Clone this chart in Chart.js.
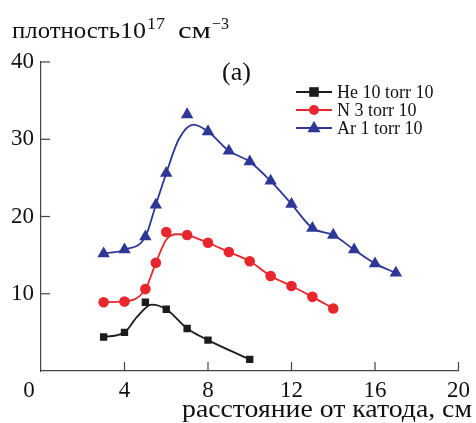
<!DOCTYPE html>
<html>
<head>
<meta charset="utf-8">
<script src="https://cdn.jsdelivr.net/npm/chart.js@4.4.1/dist/chart.umd.min.js"></script>
<style>
  html, body { margin: 0; padding: 0; background: #fff; }
  #wrap { width: 476px; height: 423px; position: relative; }
</style>
</head>
<body>
<div id="wrap"><canvas id="chart" width="476" height="423"></canvas></div>
<script>
// ---- data ----
const heX = [3, 4, 5, 6, 7, 8, 10];
const heY = [4.4, 5.0, 8.9, 8.0, 5.5, 4.0, 1.5];
const nX = [3, 4, 5, 5.5, 6, 7, 8, 9, 10, 11, 12, 13, 14];
const nY = [8.9, 9.0, 10.6, 14.0, 18.0, 17.6, 16.6, 15.4, 14.2, 12.3, 11.0, 9.6, 8.1];
const arX = [3, 4, 5, 5.5, 6, 7, 8, 9, 10, 11, 12, 13, 14, 15, 16, 17];
const arY = [15.2, 15.7, 17.4, 21.5, 25.6, 33.2, 31.0, 28.5, 27.1, 24.6, 21.6, 18.5, 17.6, 15.7, 13.9, 12.7];

// smoothed curves drawn through the markers (as seen in the figure)
const heFitX = [3, 4, 4.6, 5.3, 6, 7, 8, 10];
const heFitY = [4.4, 5.0, 7.0, 8.6, 8.0, 5.5, 4.0, 1.5];
const nFitX = [3, 4, 5, 5.5, 6, 6.5, 7, 8, 9, 10, 11, 12, 13, 14];
const nFitY = [8.9, 9.0, 10.6, 14.0, 17.0, 17.7, 17.6, 16.6, 15.4, 14.2, 12.3, 11.0, 9.6, 8.1];
const arFitX = [3, 4, 5, 5.5, 6, 6.6, 7.3, 8, 9, 10, 11, 12, 13, 14, 15, 16, 17];
const arFitY = [15.2, 15.7, 17.4, 21.5, 25.6, 30.0, 31.9, 31.0, 28.5, 27.1, 24.6, 21.6, 18.5, 17.6, 15.7, 13.9, 12.7];

const xTicks = [0, 4, 8, 12, 16, 20];
const yTicks = [0, 10, 20, 30, 40];
const seriesNames = ['He 10 torr 10', 'N 3 torr 10', 'Ar 1 torr 10'];

const COLORS = { he: '#1c1c1c', n: '#e8262d', ar: '#2e3796' };
const SERIF = '"Liberation Serif", "DejaVu Serif", serif';

const pts = (xs, ys) => xs.map((x, i) => ({ x, y: ys[i] }));

function lineSet(xs, ys, color) {
  return {
    data: pts(xs, ys),
    showLine: true,
    borderColor: color,
    borderWidth: 1.8,
    pointRadius: 0,
    cubicInterpolationMode: 'monotone',
    fill: false,
  };
}
function markerSet(xs, ys, color, style, r) {
  return {
    data: pts(xs, ys),
    showLine: false,
    pointStyle: style,
    pointRadius: r,
    backgroundColor: color,
    borderColor: color,
    borderWidth: 0,
  };
}

function drawMarker(ctx, style, x, y, r, color) {
  ctx.save();
  ctx.fillStyle = color;
  ctx.beginPath();
  if (style === 'rect') {
    ctx.rect(x - r, y - r, 2 * r, 2 * r);
  } else if (style === 'circle') {
    ctx.arc(x, y, r, 0, Math.PI * 2);
  } else {
    ctx.moveTo(x, y - r * 1.1);
    ctx.lineTo(x + r, y + r * 0.65);
    ctx.lineTo(x - r, y + r * 0.65);
    ctx.closePath();
  }
  ctx.fill();
  ctx.restore();
}

// text squeezed/stretched horizontally to a given width (the figure's font runs wide)
function fitText(ctx, text, x, y, width, size) {
  ctx.font = size + 'px ' + SERIF;
  const w = ctx.measureText(text).width;
  ctx.save();
  ctx.translate(x, y);
  ctx.scale(width / w, 1);
  ctx.fillText(text, 0, 0);
  ctx.restore();
}

const decorPlugin = {
  id: 'decor',
  afterDraw(chart) {
    const ctx = chart.ctx;
    const xs = chart.scales.x, ys = chart.scales.y;
    ctx.save();
    ctx.strokeStyle = '#444';
    ctx.lineWidth = 1.2;
    // inner ticks
    yTicks.forEach(v => {
      if (v === 0) return;
      const py = ys.getPixelForValue(v);
      ctx.beginPath();
      ctx.moveTo(xs.left, py);
      ctx.lineTo(xs.left + 9, py);
      ctx.stroke();
    });
    xTicks.forEach(v => {
      if (v === 0) return;
      const px = xs.getPixelForValue(v);
      ctx.beginPath();
      ctx.moveTo(px, ys.bottom);
      ctx.lineTo(px, ys.bottom - 9);
      ctx.stroke();
    });
    ctx.fillStyle = '#111';
    // the lone "0" label
    ctx.font = '23px ' + SERIF;
    ctx.textAlign = 'center';
    ctx.textBaseline = 'middle';
    ctx.fillText('0', 29, 391);

    ctx.textAlign = 'left';
    ctx.textBaseline = 'alphabetic';
    // panel mark
    fitText(ctx, '(a)', 222, 80, 29, 25);

    // y title with superscripts
    fitText(ctx, 'плотность', 12, 38, 108, 24);
    fitText(ctx, '10', 120, 38, 26, 24);
    fitText(ctx, '17', 147, 29, 18, 16);
    fitText(ctx, 'см', 178, 38, 33, 24);
    fitText(ctx, '\u22123', 212, 29, 17, 16);

    // x title
    fitText(ctx, 'расстояние от катода, см', 182, 417, 290, 25);

    // legend
    const rows = [
      [seriesNames[0], COLORS.he, 'rect', 4.8, 92],
      [seriesNames[1], COLORS.n, 'circle', 5, 110],
      [seriesNames[2], COLORS.ar, 'triangle', 6.5, 128],
    ];
    ctx.font = '18px ' + SERIF;
    ctx.textBaseline = 'middle';
    rows.forEach(([label, color, style, r, y]) => {
      ctx.strokeStyle = color;
      ctx.lineWidth = 1.8;
      ctx.beginPath();
      ctx.moveTo(296, y);
      ctx.lineTo(332, y);
      ctx.stroke();
      drawMarker(ctx, style, 314, y, r, color);
      ctx.fillStyle = '#111';
      ctx.fillText(label, 337, y + 1);
    });
    ctx.restore();
  },
};

new Chart(document.getElementById('chart'), {
  type: 'scatter',
  data: {
    datasets: [
      lineSet(heFitX, heFitY, COLORS.he),
      lineSet(nFitX, nFitY, COLORS.n),
      lineSet(arFitX, arFitY, COLORS.ar),
      markerSet(heX, heY, COLORS.he, 'rect', 5.2),
      markerSet(nX, nY, COLORS.n, 'circle', 5.3),
      markerSet(arX, arY, COLORS.ar, 'triangle', 7.2),
    ],
  },
  options: {
    responsive: false,
    animation: false,
    events: [],
    layout: { padding: { top: 62, right: 15, left: 0, bottom: 0 } },
    plugins: { legend: { display: false }, tooltip: { enabled: false } },
    scales: {
      x: {
        type: 'linear',
        min: 0, max: 20,
        afterBuildTicks: s => { s.ticks = xTicks.map(v => ({ value: v })); },
        afterFit: s => { s.height = 52; },
        ticks: {
          color: '#111',
          font: { family: SERIF, size: 23 },
          padding: 6,
          maxRotation: 0,
          callback: v => (v === 0 ? '' : v),
        },
        grid: { drawOnChartArea: false, drawTicks: false },
        border: { display: true, color: '#444', width: 1.2 },
      },
      y: {
        min: 0, max: 40,
        afterBuildTicks: s => { s.ticks = yTicks.map(v => ({ value: v })); },
        afterFit: s => { s.width = 41; },
        ticks: {
          color: '#111',
          font: { family: SERIF, size: 23 },
          padding: 7,
          callback: v => (v === 0 ? '' : v),
        },
        grid: { drawOnChartArea: false, drawTicks: false },
        border: { display: true, color: '#444', width: 1.2 },
      },
    },
  },
  plugins: [decorPlugin],
});
</script>
</body>
</html>
